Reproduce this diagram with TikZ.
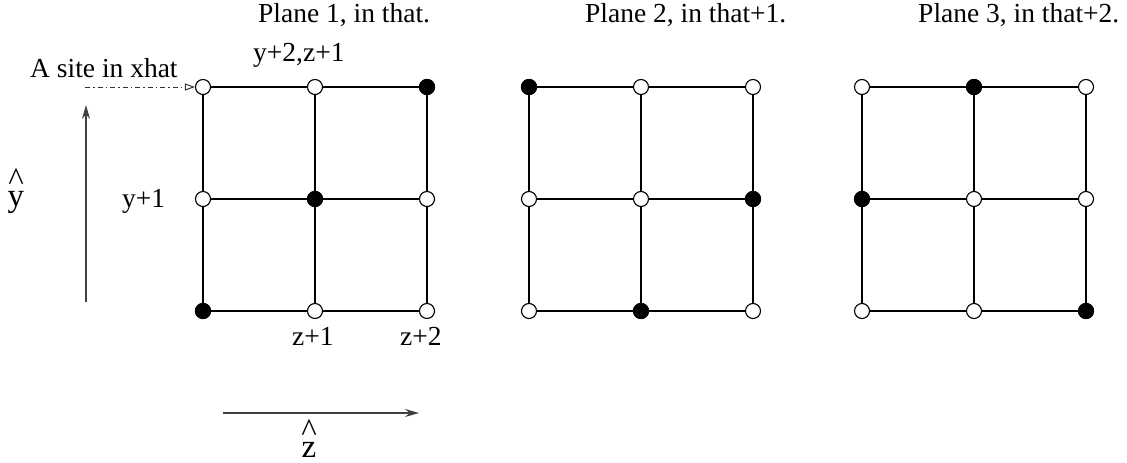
\documentclass[tikz,border=0pt]{standalone}
\usepackage{fontspec}
\setmainfont{Liberation Serif}
\usetikzlibrary{arrows.meta}
\newcommand\myhatfont{\fontsize{33}{15.4}\selectfont\lineskiplimit=-100pt\relax}
\begin{document}
\begin{tikzpicture}[x=1pt,y=-1pt,
  site/.style={circle,draw,line width=1.1pt,minimum size=15pt,inner sep=0pt,fill=white},
  full/.style={site,fill=black},
  edge/.style={line width=1.2pt},
  lbl/.style={font=\fontsize{27.5}{33}\selectfont,inner sep=0pt},
  hatlbl/.style={font=\myhatfont,align=center,inner sep=0pt},
  axis/.style={line width=1.3pt,draw=black!75,-{Stealth[length=14pt,width=8pt]}},
  pointer/.style={line width=1pt,draw=black!80,dash pattern=on 5pt off 3pt on 1.5pt off 3pt,-{Triangle[open,length=10pt,width=7pt]}}]
\useasboundingbox (0,0) rectangle (1127,463);
% sites
\foreach \p/\x in {1/203,2/529,3/862}{
  \foreach \i/\dx in {0/0,1/112,2/224}{
    \foreach \j/\y in {0/87,1/199,2/311}{
      \node[site] (p\p-\i-\j) at (\x+\dx,\y) {};
    }
  }
}
% filled sites
\foreach \p/\i/\j in {1/2/0,1/1/1,1/0/2,2/0/0,2/2/1,2/1/2,3/1/0,3/0/1,3/2/2}{
  \node[full] at (p\p-\i-\j) {};
}
% grid lines
\foreach \p in {1,2,3}{
  \foreach \k in {0,1,2}{
    \draw[edge] (p\p-\k-0) -- (p\p-\k-1);
    \draw[edge] (p\p-\k-1) -- (p\p-\k-2);
    \draw[edge] (p\p-0-\k) -- (p\p-1-\k);
    \draw[edge] (p\p-1-\k) -- (p\p-2-\k);
  }
}
% titles
\node[lbl,anchor=base west] (t1) at (258,23) {Plane 1, in that.};
\node[lbl,anchor=base west] (t2) at (585,23) {Plane 2, in that+1.};
\node[lbl,anchor=base west] (t3) at (918,23) {Plane 3, in that+2.};
% labels
\node[lbl,anchor=base west] (lyz) at (253,61) {y+2,z+1};
\node[lbl,anchor=base west] (lsite) at (30,77) {A site in xhat};
\node[lbl,anchor=base west] (ly1) at (122,207) {y+1};
\node[lbl,anchor=base west] (lz1) at (292,345) {z+1};
\node[lbl,anchor=base west] (lz2) at (400,345) {z+2};
% pointer
\coordinate (ps) at (85,87);
\draw[pointer] (ps) -- (p1-0-0.west);
% axes
\coordinate (ya) at (86,302);
\coordinate (yb) at (86,105);
\draw[axis] (ya) -- (yb);
\node[hatlbl,anchor=north] (ylab) at (16,169) {\textasciicircum\\y};
\coordinate (za) at (223,413);
\coordinate (zb) at (419,413);
\draw[axis] (za) -- (zb);
\node[hatlbl,anchor=north] (zlab) at (309,420) {\textasciicircum\\z};
\end{tikzpicture}
\end{document}
